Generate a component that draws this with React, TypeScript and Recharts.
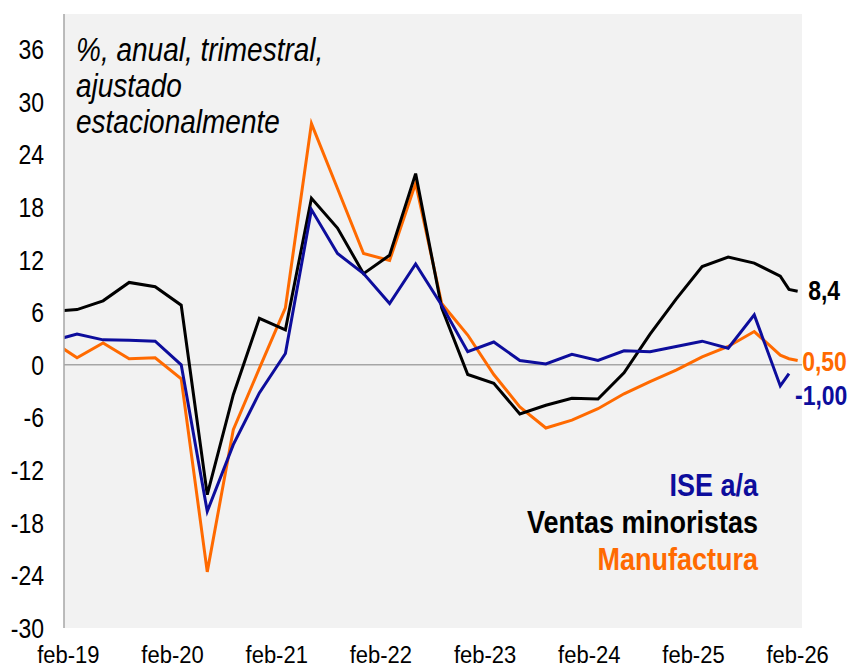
import { LineChart, Line, XAxis, YAxis, CartesianGrid, ReferenceLine } from "recharts";

// quarterly points (quarter-end month), monthly at the end; dic-18 only feeds the clipped left edge
const periods = [
  "2018-12", "2019-03", "2019-06", "2019-09", "2019-12",
  "2020-03", "2020-06", "2020-09", "2020-12",
  "2021-03", "2021-06", "2021-09", "2021-12",
  "2022-03", "2022-06", "2022-09", "2022-12",
  "2023-03", "2023-06", "2023-09", "2023-12",
  "2024-03", "2024-06", "2024-09", "2024-12",
  "2025-03", "2025-06", "2025-09", "2025-12",
  "2026-01", "2026-02",
];

const iseAA = [
  2.7, 3.5, 2.85, 2.8, 2.7,
  0.0, -16.7, -9.1, -3.2,
  1.3, 17.7, 12.7, 10.4,
  7.0, 11.5, 6.8, 1.5,
  2.6, 0.5, 0.1, 1.2,
  0.5, 1.6, 1.5, 2.1,
  2.7, 1.9, 5.7, -2.4,
  -1.0, null,
];

const ventasMinoristas = [
  6.1, 6.3, 7.3, 9.4, 8.9,
  6.8, -14.8, -3.4, 5.3,
  4.0, 19.0, 15.6, 10.4,
  12.5, 21.8, 6.5, -1.1,
  -2.1, -5.6, -4.6, -3.8,
  -3.9, -0.9, 3.5, 7.5,
  11.2, 12.3, 11.6, 10.1,
  8.6, 8.4,
];

const manufactura = [
  2.8, 0.8, 2.5, 0.7, 0.8,
  -1.6, -23.6, -7.4, -0.4,
  6.5, 27.5, 20.1, 12.7,
  11.9, 20.7, 7.0, 3.4,
  -1.1, -4.8, -7.2, -6.3,
  -5.0, -3.3, -1.9, -0.6,
  0.9, 2.1, 3.8, 1.1,
  0.7, 0.5,
];

const yTicks = [-30, -24, -18, -12, -6, 0, 6, 12, 18, 24, 30, 36];
const xTickLabels = ["feb-19", "feb-20", "feb-21", "feb-22", "feb-23", "feb-24", "feb-25", "feb-26"];

const BLUE = "#0d0d9c";
const ORANGE = "#ff6a00";
const BLACK = "#000000";
const FONT = '"Liberation Sans", Arial, sans-serif';
const STRETCH = 1.18;

// months since feb-19
const monthIndex = (p: string) => {
  const [y, m] = p.split("-").map(Number);
  return (y - 2019) * 12 + (m - 2);
};

const data = periods.map((p, i) => ({
  t: monthIndex(p),
  ise: iseAA[i],
  ventas: ventasMinoristas[i],
  manuf: manufactura[i],
}));

const lastIndex = (arr: (number | null)[]) => {
  for (let i = arr.length - 1; i >= 0; i--) if (arr[i] !== null) return i;
  return -1;
};

const fmt = (v: number, d: number) => v.toFixed(d).replace(".", ",");

const endLabel = (arr: (number | null)[], color: string, decimals: number, dx: number, dy: number) =>
  (props: any) => {
    const { x, y, index, value } = props;
    if (index !== lastIndex(arr) || value == null) return <g key={`e-${index}`} />;
    return (
      <text
        key={`e-${index}`}
        transform={`translate(${x + dx},${y + dy}) scale(1,${STRETCH})`}
        fontSize={23}
        fontWeight="bold"
        fontFamily={FONT}
        fill={color}
      >
        {fmt(value, decimals)}
      </text>
    );
  };

const YTick = ({ x, y, payload }: any) => (
  <text
    transform={`translate(${x},${y + 10}) scale(1,${STRETCH})`}
    textAnchor="end"
    fontSize={23}
    fontFamily={FONT}
    fill="#000"
  >
    {payload.value}
  </text>
);

const XTick = ({ x, y, payload }: any) => (
  <text
    transform={`translate(${x},${y + 35}) scale(1,1.12)`}
    textAnchor="middle"
    fontSize={22}
    fontFamily={FONT}
    fill="#000"
  >
    {xTickLabels[payload.value / 12]}
  </text>
);

const Overlay = () => (
  <svg width={851} height={668} style={{ position: "absolute", left: 0, top: 0, pointerEvents: "none" }}>
    <g fontFamily={FONT} fontStyle="italic" fontSize={28} fill="#000">
      <text transform={`translate(76,61) scale(1,${STRETCH})`}>%, anual, trimestral,</text>
      <text transform={`translate(76,97) scale(1,${STRETCH})`}>ajustado</text>
      <text transform={`translate(76,133) scale(1,${STRETCH})`}>estacionalmente</text>
    </g>
    <g fontFamily={FONT} fontWeight="bold" fontSize={27} textAnchor="end">
      <text transform={`translate(758,496) scale(1,${STRETCH})`} fill={BLUE}>ISE a/a</text>
      <text transform={`translate(758,533) scale(1,${STRETCH})`} fill={BLACK}>Ventas minoristas</text>
      <text transform={`translate(758,570) scale(1,${STRETCH})`} fill={ORANGE}>Manufactura</text>
    </g>
  </svg>
);

export default function App() {
  return (
    <div style={{ position: "absolute", left: 0, top: 0, width: 851, height: 668, background: "#fff" }}>
      <LineChart width={851} height={668} data={data} margin={{ top: 14, right: 49, bottom: 0, left: 0 }}>
        <CartesianGrid fill="#f2f2f2" stroke="none" horizontal={false} vertical={false} />
        <XAxis
          dataKey="t"
          type="number"
          domain={[-0.5, 84.5]}
          ticks={[0, 12, 24, 36, 48, 60, 72, 84]}
          allowDataOverflow
          axisLine={false}
          tickLine={false}
          tickSize={0}
          tickMargin={0}
          height={40}
          tick={<XTick />}
        />
        <YAxis
          type="number"
          domain={[-30, 40]}
          ticks={yTicks}
          allowDataOverflow
          width={64}
          axisLine={{ stroke: "#a6a6a6", strokeWidth: 1.5 }}
          tickLine={false}
          tickSize={0}
          tickMargin={20}
          tick={<YTick />}
        />
        <ReferenceLine y={0} stroke="#a6a6a6" strokeWidth={1.5} />
        <Line
          dataKey="manuf"
          stroke={ORANGE}
          strokeWidth={3}
          dot={false}
          isAnimationActive={false}
          label={endLabel(manufactura, ORANGE, 2, 4.5, 10.5)}
        />
        <Line
          dataKey="ventas"
          stroke={BLACK}
          strokeWidth={3}
          dot={false}
          isAnimationActive={false}
          label={endLabel(ventasMinoristas, BLACK, 1, 10.5, 9)}
        />
        <Line
          dataKey="ise"
          stroke={BLUE}
          strokeWidth={3}
          dot={false}
          isAnimationActive={false}
          label={endLabel(iseAA, BLUE, 2, 6, 31.5)}
        />
      </LineChart>
      <Overlay />
    </div>
  );
}
